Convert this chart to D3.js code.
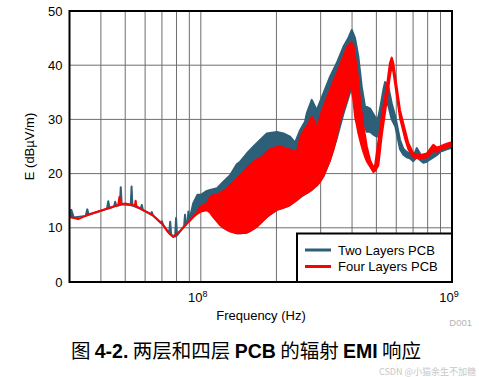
<!DOCTYPE html>
<html>
<head>
<meta charset="utf-8">
<script src="https://cdn.jsdelivr.net/npm/d3@7"></script>
<style>
  body { margin: 0; background: #fff; }
  svg { font-family: "Liberation Sans", Arial, sans-serif; }
</style>
</head>
<body>
<div id="chart"></div>
<script>
// frequency in MHz, E in dBuV/m, hi/lo = envelope of the trace
const twoFreq = [30, 30.5, 31.2, 34.8, 35.3, 35.8, 42.3, 42.8, 43.3, 45.1, 45.6, 46.1, 47.6, 48.0, 48.4,
  52.6, 53.0, 53.4, 57.6, 58.2, 58.8, 63.2, 63.8, 64.4, 69.3, 70, 70.7, 74.8, 75.5, 76.2, 79, 79.7, 80.4,
  85.8, 86.5, 87.2, 88.5, 89.2, 89.9, 93.2, 97, 100, 105.7, 108.9, 116, 123, 130.8, 139, 143.4, 152.4, 162,
  172.2, 183.1, 200.7, 213.2, 226.6, 237.3, 248.4, 260, 264.1, 276.5, 289.5, 307.6, 327, 347.7, 369.4, 386.7,
  399, 411.2, 423.8, 437.3, 450.7, 457.8, 471.8, 486.3, 501.8, 509.1, 517.2, 533.1, 541.5, 550, 558.1, 575.4,
  595, 621, 640, 660.4, 680.7, 701.5, 723.7, 745.9, 768.8, 793, 817.6, 842.6, 869.2, 896, 952.6, 1000];
const twoHi = [13.0, 13.3, 11.9, 12.2, 13.4, 12.4, 13.5, 14.9, 13.6, 13.9, 14.8, 14.0, 14.2, 17.5, 14.3,
  14.2, 17.6, 14.1, 13.5, 14.2, 13.3, 12.5, 12.9, 12.3, 10.9, 11.2, 10.6, 9.0, 11.1, 8.7, 8.4, 11.8, 8.6,
  10.3, 12.4, 10.6, 11.0, 13.0, 11.2, 14.5, 16.1, 16.1, 16.8, 17.0, 17.3, 18.5, 19.7, 21.7, 22.2, 23.7, 25.0,
  26.2, 27.4, 27.7, 27.4, 26.8, 25.7, 28.0, 29.6, 31.1, 33.6, 31.7, 34.8, 37.9, 40.4, 43.4, 45.0,
  46.5, 45.0, 41.6, 36.0, 32.3, 32.3, 32.0, 31.0, 29.9, 30.5, 32.0, 35.5, 36.9, 36.5, 36.0, 33.0,
  30.5, 26.2, 24.6, 24.0, 23.7, 23.1, 24.7, 23.7, 22.8, 23.0, 23.4, 24.0, 24.0, 24.7, 25.3, 25.5];
const twoLo = [12.0, 12.0, 11.9, 12.2, 12.3, 12.4, 13.5, 13.6, 13.6, 13.9, 14.0, 14.0, 14.2, 14.3, 14.3,
  14.2, 14.1, 14.1, 13.5, 13.4, 13.3, 12.5, 12.4, 12.3, 10.9, 10.8, 10.6, 9.0, 8.8, 8.7, 8.4, 8.5, 8.6,
  10.3, 10.5, 10.6, 11.0, 11.1, 11.2, 12.0, 12.8, 13.2, 13.3, 13.0, 11.5, 10.0, 9.5, 9.0, 9.0, 9.1, 9.8,
  10.8, 12.0, 13.3, 13.7, 14.2, 14.9, 15.6, 16.2, 16.4, 17.0, 17.8, 19.5, 22.5, 26.5, 31.0, 34.0,
  36.0, 37.0, 35.0, 31.0, 28.5, 27.7, 27.7, 27.2, 26.8, 27.5, 28.7, 32.0, 33.5, 33.0, 32.5, 30.0,
  28.7, 24.5, 23.5, 23.0, 22.8, 22.3, 23.0, 22.5, 22.0, 22.2, 22.6, 23.0, 23.4, 24.0, 24.5, 24.8];

const fourFreq = [30, 32.5, 35.5, 39, 42.8, 46.9, 47.4, 47.8, 50, 54.6, 55, 55.4, 58, 64, 70, 74, 77.6, 82.7,
  89, 93.2, 97, 100, 105.7, 108.9, 111.9, 119.3, 126.9, 130.8, 139.1, 143.4, 152.4, 157.1, 167.1, 172.2,
  183.1, 188.7, 200.7, 206.9, 219.9, 226.6, 241, 248.4, 252.3, 264.1, 276.5, 285, 289.5, 298.4, 307.6,
  327, 337.1, 347.7, 358.4, 369.4, 381.1, 392.8, 399, 404.9, 411.2, 417.7, 423.8, 430.5, 437.3, 443.8,
  450.7, 457.8, 471.8, 486.3, 494, 509.1, 525, 550, 566, 575.4, 583.9, 602.5, 621, 650.1, 670.2, 701.5,
  745.9, 793.1, 817.6, 842.6, 869.2, 896, 952.6, 1000];
const fourHi = [12.0, 11.6, 12.4, 13.0, 13.6, 14.2, 15.7, 14.3, 14.5, 14.1, 15.0, 14.0, 13.4, 12.4, 10.8,
  9.2, 8.3, 9.4, 11.0, 12.0, 13.0, 14.0, 14.5, 15.7, 16.0, 16.4, 17.2, 17.9, 19.0, 19.7, 21.0, 21.6, 22.6,
  22.8, 24.0, 24.5, 24.9, 25.0, 24.6, 24.4, 24.0, 26.5, 27.4, 28.7, 30.5, 29.5, 28.0, 30.5, 32.3,
  35.4, 37.0, 38.5, 40.1, 41.6, 43.2, 44.0, 44.1, 43.7, 41.5, 39.5, 37.0, 33.5, 31.0, 28.7,
  27.0, 25.0, 22.5, 21.2, 21.5, 26.0, 30.5, 36.0, 40.4, 41.4, 40.4, 36.0, 31.7, 28.0, 25.6, 23.7,
  23.4, 23.7, 24.5, 25.3, 24.8, 25.0, 25.5, 25.8];
const fourLo = [12.0, 11.6, 12.4, 13.0, 13.6, 14.2, 14.2, 14.3, 14.5, 14.1, 14.1, 14.0, 13.4, 12.4, 10.8,
  9.2, 8.3, 9.4, 11.0, 12.0, 12.6, 13.0, 13.3, 12.8, 12.0, 10.5, 9.6, 9.3, 9.0, 9.0, 9.1, 9.4, 10.2,
  10.8, 12.0, 12.5, 13.3, 13.5, 13.9, 14.2, 15.1, 15.6, 16.0, 16.4, 17.0, 17.6, 17.8, 18.5, 19.5,
  22.5, 24.4, 27.0, 29.9, 31.8, 33.6, 36.0, 35.5, 33.5, 30.5, 29.0, 27.5, 26.2, 25.0, 24.0,
  23.1, 22.3, 21.3, 20.3, 20.5, 21.5, 27.0, 33.5, 38.0, 39.8, 38.8, 34.5, 30.2, 26.5, 24.5, 23.0,
  22.8, 23.0, 23.6, 24.2, 24.0, 24.4, 24.8, 25.2];

const yTicks = [0, 10, 20, 30, 40, 50];
const xGrid = [4e7, 5e7, 6e7, 7e7, 8e7, 9e7, 1e8, 2e8, 3e8, 4e8, 5e8, 6e8, 7e8, 8e8, 9e8];
const xLabels = [{ v: 1e8, e: "8" }, { v: 1e9, e: "9" }];
const seriesNames = ["Two Layers PCB", "Four Layers PCB"];
const colors = ["#2d5f78", "#ff0000"];

let w = 479, h = 377,
    margin = ({ top: 11, right: 27, bottom: 95, left: 69.5 });

const svg = d3.select("#chart")
  .append("svg")
  .attr("width", w)
  .attr("height", h);

let x = d3.scaleLog()
  .domain([3e7, 1e9])
  .range([margin.left, w - margin.right]);

let y = d3.scaleLinear()
  .domain([0, 50])
  .range([h - margin.bottom, margin.top]);

// grid
svg.append("g")
  .selectAll("line.v")
  .data(xGrid)
  .join("line")
  .attr("x1", d => x(d)).attr("x2", d => x(d))
  .attr("y1", y(0)).attr("y2", y(50))
  .attr("stroke", "#6e6e6e")
  .attr("stroke-width", 1);

svg.append("g")
  .selectAll("line.h")
  .data(yTicks.slice(1, -1))
  .join("line")
  .attr("x1", x(3e7)).attr("x2", x(1e9))
  .attr("y1", d => y(d)).attr("y2", d => y(d))
  .attr("stroke", "#6e6e6e")
  .attr("stroke-width", 1);

svg.append("defs").append("clipPath").attr("id", "clip")
  .append("rect")
  .attr("x", x(3e7)).attr("y", y(50))
  .attr("width", x(1e9) - x(3e7)).attr("height", y(0) - y(50));

const two = twoFreq.map((f, i) => ({ f: f * 1e6, hi: twoHi[i], lo: twoLo[i] }));
const four = fourFreq.map((f, i) => ({ f: f * 1e6, hi: fourHi[i], lo: fourLo[i] }));

const area = d3.area()
  .x(d => x(d.f))
  .y0(d => y(d.lo))
  .y1(d => y(d.hi));

const plot = svg.append("g").attr("clip-path", "url(#clip)");
[two, four].forEach((data, i) => {
  plot.append("path")
    .datum(data)
    .attr("d", area)
    .attr("fill", colors[i])
    .attr("stroke", colors[i])
    .attr("stroke-width", 2)
    .attr("stroke-linejoin", "round");
});

// frame
svg.append("rect")
  .attr("x", x(3e7)).attr("y", y(50))
  .attr("width", x(1e9) - x(3e7)).attr("height", y(0) - y(50))
  .attr("fill", "none")
  .attr("stroke", "#000")
  .attr("stroke-width", 2);

// y tick labels
svg.append("g")
  .selectAll("text")
  .data(yTicks)
  .join("text")
  .attr("x", margin.left - 7)
  .attr("y", d => y(d))
  .attr("dy", "0.35em")
  .attr("text-anchor", "end")
  .attr("font-size", 13)
  .text(d => d);

// x tick labels
const xl = svg.append("g")
  .selectAll("text")
  .data(xLabels)
  .join("text")
  .attr("x", d => x(d.v) - 3)
  .attr("y", 302)
  .attr("text-anchor", "middle")
  .attr("font-size", 13);
xl.append("tspan").text("10");
xl.append("tspan").attr("dy", -5).attr("font-size", 9).text(d => d.e);

svg.append("text")
  .attr("x", 261)
  .attr("y", 320)
  .attr("text-anchor", "middle")
  .attr("font-size", 13)
  .text("Frequency (Hz)");

svg.append("text")
  .attr("transform", `translate(34,${(y(0) + y(50)) / 2}) rotate(-90)`)
  .attr("text-anchor", "middle")
  .attr("font-size", 13)
  .text("E (dBµV/m)");

svg.append("text")
  .attr("x", 472)
  .attr("y", 326)
  .attr("text-anchor", "end")
  .attr("font-size", 9.5)
  .attr("fill", "#b4b4b4")
  .text("D001");

// legend
const lg = svg.append("g");
lg.append("rect")
  .attr("x", 297).attr("y", 233.5)
  .attr("width", x(1e9) - 297).attr("height", y(0) - 233.5)
  .attr("fill", "#fff")
  .attr("stroke", "#000")
  .attr("stroke-width", 2);
seriesNames.forEach((name, i) => {
  lg.append("line")
    .attr("x1", 305).attr("x2", 331)
    .attr("y1", 250 + i * 16.5).attr("y2", 250 + i * 16.5)
    .attr("stroke", colors[i])
    .attr("stroke-width", 3);
  lg.append("text")
    .attr("x", 338).attr("y", 250 + i * 16.5)
    .attr("dy", "0.35em")
    .attr("font-size", 13)
    .text(name);
});

// caption
const cap = svg.append("text")
  .attr("x", 246)
  .attr("y", 358)
  .attr("text-anchor", "middle")
  .attr("font-size", 19.5)
  .style("font-family", "'Noto Sans CJK SC', 'Liberation Sans', sans-serif");
[["图 ", false], ["4-2.", true], [" 两层和四层 ", false], ["PCB", true], [" 的辐射 ", false],
 ["EMI", true], [" 响应", false]].forEach(([t, b]) => {
  cap.append("tspan")
    .attr("font-weight", b ? "bold" : "normal")
    .style("font-family", b ? "'Liberation Sans', Arial, sans-serif" : null)
    .text(t);
});

svg.append("text")
  .attr("x", 476)
  .attr("y", 375)
  .attr("text-anchor", "end")
  .attr("font-size", 9)
  .attr("fill", "#c8c8c8")
  .style("font-family", "'Noto Sans CJK SC', sans-serif")
  .text("CSDN @小猫余生不加糖");
</script>
</body>
</html>
